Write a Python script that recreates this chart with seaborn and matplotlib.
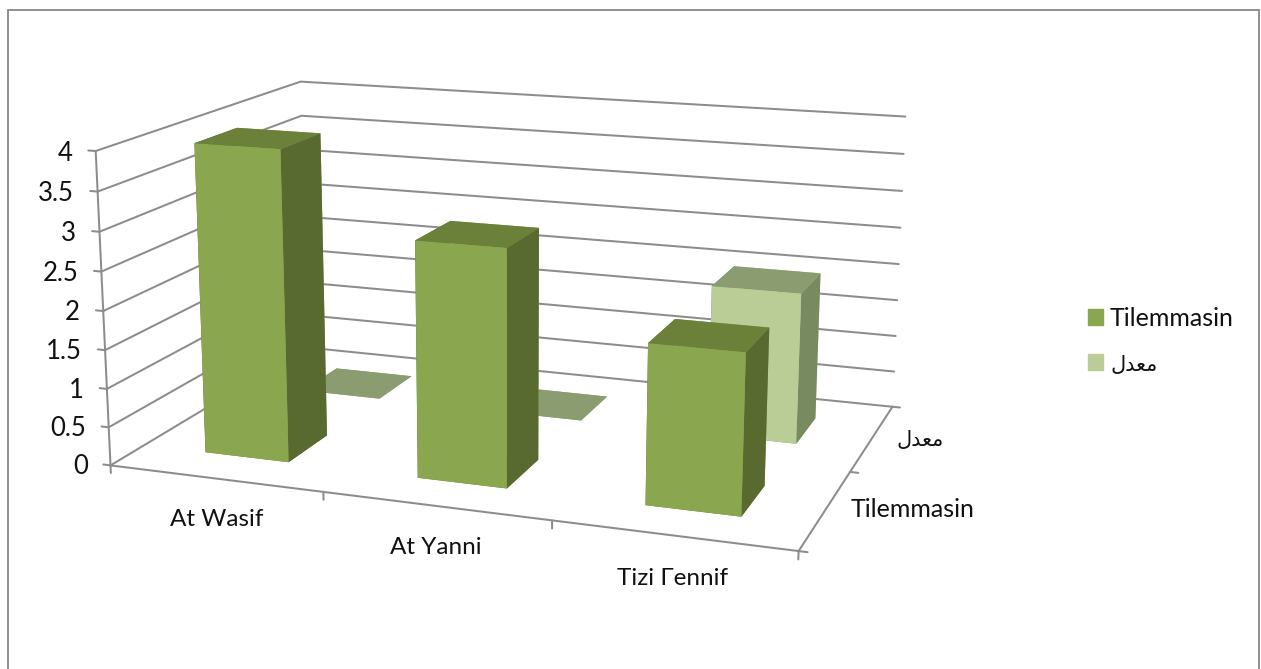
import numpy as np
import pandas as pd
import seaborn as sns
import matplotlib
matplotlib.use('Agg')
import matplotlib.pyplot as plt
from matplotlib.patches import Patch, Rectangle
from mpl_toolkits.mplot3d import proj3d

# "معدل" written in presentation forms, visual order: matplotlib does not shape Arabic
MEAN_LABEL = '\uFEDD\uFEAA\uFECC\uFEE3'

categories = ['At Wasif', 'At Yanni', 'Tizi Γennif']
series_names = ['Tilemmasin', MEAN_LABEL]
tilemmasin = [4, 3, 2]
mean_values = [0, 0, 2]
z_ticks = [0, 0.5, 1, 1.5, 2, 2.5, 3, 3.5, 4]
z_tick_labels = ['0', '0.5', '1', '1.5', '2', '2.5', '3', '3.5', '4']

sns.set_theme(style='white')
plt.rcParams['font.family'] = ['Lato', 'DejaVu Sans']

W, H = 1261, 669
GRID = '#8C8C8C'
# face colours: front, side, top
front_cols = sns.color_palette(['#8AA64F', '#596A30', '#6B8039'])
back_cols = sns.color_palette(['#BBCD96', '#778A60', '#8B9D70'])

df = pd.DataFrame({'category': categories, series_names[0]: tilemmasin, series_names[1]: mean_values})

fig = plt.figure(figsize=(W / 100, H / 100), dpi=100)
fig.patch.set_facecolor('white')

# camera was fitted against the corners of the reference box
scale, cx, cy = 4589.21, 517.99, 286.55
size = scale * 0.185
left = cx - scale * 0.095
bottom = H - (cy + scale * 0.095)
ax = fig.add_axes([left / W, bottom / H, size / W, size / H], projection='3d')
ax.computed_zorder = False
ax.view_init(14.15, -70.282, -0.033)
ax.set_proj_type('persp', focal_length=0.479)
ax.set_box_aspect((2.1923, 1.447, 1))
ax.set_axis_off()
ax.patch.set_alpha(0)

n_cat, n_ser = len(categories), len(series_names)
z_top = z_ticks[-1]
line = dict(color=GRID, lw=1.45, zorder=1, solid_capstyle='round')

# walls and floor
for z in z_ticks:
    ax.plot([0, 0, n_cat], [0, n_ser, n_ser], [z, z, z], **line)
ax.plot([0, 0], [0, 0], [0, z_top], **line)
ax.plot([0, n_cat, n_cat], [0, 0, n_ser], [0, 0, 0], **line)

# ticks
for z in z_ticks:
    ax.plot([-0.035, 0], [0, 0], [z, z], **line)
for i in range(n_cat + 1):
    ax.plot([i, i], [0, 0], [0, -0.1], **line)
for j in range(n_ser + 1):
    ax.plot([n_cat, n_cat + 0.035], [j, j], [0, 0], **line)

# bars, back series first so the front one covers it
bar_w, bar_d = 0.4, 0.4
for j, name, cols in [(1, series_names[1], back_cols), (0, series_names[0], front_cols)]:
    vals = df[name].to_numpy(dtype=float)
    xs = np.arange(n_cat) + 0.5 - bar_w / 2
    ys = np.full(n_cat, j + 0.5 - bar_d / 2)
    # bar3d face order: bottom, top, front, back, left, right
    faces = [cols[2], cols[2], cols[0], cols[0], cols[1], cols[1]] * n_cat
    ax.bar3d(xs, ys, np.zeros(n_cat), bar_w, bar_d, vals, color=faces, shade=False,
             edgecolor='none', linewidth=0, zorder=2 + (1 - j))

ax.set_xlim(0, n_cat, view_margin=0)
ax.set_ylim(0, n_ser, view_margin=0)
ax.set_zlim(0, z_top, view_margin=0)
ax.set_xticks([])
ax.set_yticks([])
ax.set_zticks([])

M = ax.get_proj()


def label_at(x, y, z, text, **kwargs):
    # plain 2D text placed at the projected 3D point
    u, v, _ = proj3d.proj_transform(x, y, z, M)
    ax.text2D(u, v, text, va='center', color='#111111', **kwargs)


TICK_FS, CAT_FS, SER_FS, ARABIC_FS = 18.5, 17.5, 18, 15
for z, lab in zip(z_ticks, z_tick_labels):
    label_at(-0.112, 0, z - 0.05, lab, ha='right', fontsize=TICK_FS)
for i, lab in enumerate(categories):
    label_at(i + 0.5, 0, -0.53, lab, ha='center', fontsize=CAT_FS)
label_at(n_cat + 0.1, 0.5, 0.03, series_names[0], ha='left', fontsize=SER_FS)
label_at(n_cat + 0.11, 1.5, 0, series_names[1], ha='left', fontsize=ARABIC_FS)

handles = [Patch(color=front_cols[0]), Patch(color=back_cols[0])]
leg = fig.legend(handles, series_names, loc='center left', bbox_to_anchor=(1088 / W, 1 - 341 / H),
                 frameon=False, fontsize=SER_FS, handlelength=0.6, handleheight=0.6,
                 handletextpad=0.28, labelspacing=0.95, borderpad=0, borderaxespad=0)
for t in leg.get_texts():
    t.set_color('#111111')
leg.get_texts()[1].set_fontsize(ARABIC_FS)

# chart area border, runs off the bottom of the picture
fig.add_artist(Rectangle((8 / W, -0.02), 1251 / W, 1.02 - 10 / H, transform=fig.transFigure,
                         fill=False, edgecolor='#868686', linewidth=1.3))

fig.savefig('out.png', dpi=100)
